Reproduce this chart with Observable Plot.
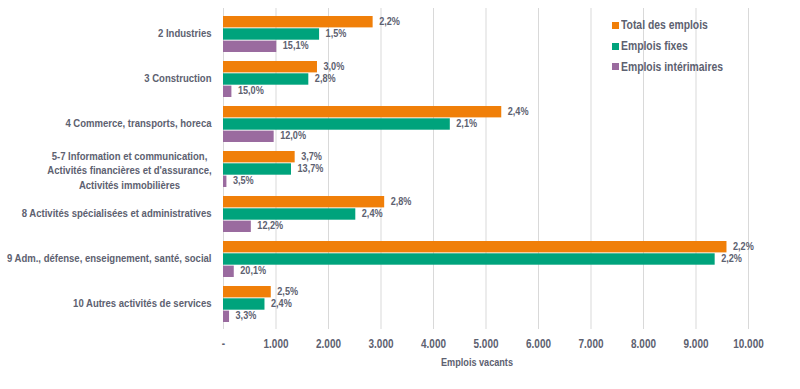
<!DOCTYPE html>
<html>
<head>
<meta charset="utf-8">
<script src="https://cdn.jsdelivr.net/npm/d3@7"></script>
<script src="https://cdn.jsdelivr.net/npm/@observablehq/plot@0.6"></script>
<style>
  html, body { margin: 0; padding: 0; background: #fff; }
  #chart { position: relative; width: 800px; height: 389px; font-family: "Liberation Sans", Arial, sans-serif; font-weight: bold; color: #5d6170; }
  #legend { position: absolute; left: 612px; top: 15px; font-size: 12.5px; }
  #legend .row { height: 20.7px; display: flex; align-items: center; white-space: nowrap; }
  #legend .sw { width: 7px; height: 7px; margin-right: 2px; display: inline-block; flex: none; }
  #legend .lab { display: inline-block; transform: scaleX(0.83); transform-origin: left center; }
</style>
</head>
<body>
<div id="chart"><div id="legend"></div></div>
<script>
const categories = [
  "2 Industries",
  "3 Construction",
  "4 Commerce, transports, horeca",
  "5-7 Information et communication,\nActivités financières et d'assurance,\nActivités immobilières",
  "8 Activités spécialisées et administratives",
  "9 Adm., défense, enseignement, santé, social",
  "10 Autres activités de services"
];
const seriesNames = ["Total des emplois", "Emplois fixes", "Emplois intérimaires"];
const seriesColors = ["#f07f09", "#00a37c", "#9a6b9f"];
const totalValues   = [2850, 1790, 5300, 1365, 3070, 9590, 910];
const fixesValues   = [1830, 1625, 4320, 1295, 2520, 9365, 790];
const interimValues = [1015, 160, 965, 65, 530, 205, 115];
const totalPct   = ["2,2%", "3,0%", "2,4%", "3,7%", "2,8%", "2,2%", "2,5%"];
const fixesPct   = ["1,5%", "2,8%", "2,1%", "13,7%", "2,4%", "2,2%", "2,4%"];
const interimPct = ["15,1%", "15,0%", "12,0%", "3,5%", "12,2%", "20,1%", "3,3%"];
const xTicks = [0, 1000, 2000, 3000, 4000, 5000, 6000, 7000, 8000, 9000, 10000];
const xLabel = "Emplois vacants";

const valueSets = [totalValues, fixesValues, interimValues];
const pctSets = [totalPct, fixesPct, interimPct];

const W = 800, H = 389, MT = 10, MB = 60, ML = 223, MR = 52;
const PI = 0.19, PO = 0.095;
const step = (H - MT - MB) / (categories.length - PI + 2 * PO);
const bw = step * (1 - PI);
const sub = bw / 3;
const SQUEEZE = 0.83;

const series = seriesNames.map((name, i) => ({
  name, color: seriesColors[i],
  rows: categories.map((cat, j) => ({cat, value: valueSets[i][j], pct: pctSets[i][j]}))
}));

const fmt = d => d === 0 ? "-" : d3.format(",")(d).replace(/,/g, ".");
const multi = categories.filter(c => c.includes("\n"));
const single = categories.filter(c => !c.includes("\n"));

const marks = [
  Plot.ruleX(xTicks, {stroke: "#d9d9d9", strokeWidth: 1, insetTop: -2})
];
series.forEach((s, i) => {
  marks.push(Plot.barX(s.rows, {y: "cat", x: "value", fill: s.color, insetTop: i * sub, insetBottom: (2 - i) * sub}));
});
series.forEach((s, i) => {
  marks.push(Plot.text(s.rows, {y: "cat", x: "value", text: "pct", textAnchor: "start", dx: 6, dy: (i - 1) * sub - 1, fontSize: 11}));
});
marks.push(
  Plot.axisX({ticks: xTicks, tickSize: 0, tickPadding: 10, tickFormat: fmt, label: null, fontSize: 12}),
  Plot.text(single, {y: d => d, frameAnchor: "left", textAnchor: "end", dx: -12, dy: -1, fontSize: 11.5}),
  Plot.text(multi, {y: d => d, frameAnchor: "left", textAnchor: "middle", dx: -94, lineHeight: 1.27, fontSize: 11.5}),
  Plot.text([xLabel], {frameAnchor: "bottom", dy: 36, dx: -9, fontSize: 11})
);

const chart = Plot.plot({
  width: W, height: H,
  marginLeft: ML, marginRight: MR, marginTop: MT, marginBottom: MB,
  style: {fontFamily: "'Liberation Sans', Arial, sans-serif", fontWeight: "bold", color: "#5d6170", background: "#fff"},
  x: {domain: [0, 10000]},
  y: {domain: categories, paddingInner: PI, paddingOuter: PO, axis: null},
  marks
});

// emulate the condensed typeface of the original by squeezing each text horizontally around its anchor
chart.querySelectorAll("text").forEach(t => {
  const tr = t.getAttribute("transform") || "";
  const ax = parseFloat(t.getAttribute("x"));
  const a = isNaN(ax) ? 0 : ax;
  const squeeze = a ? `translate(${a},0) scale(${SQUEEZE},1) translate(${-a},0)` : `scale(${SQUEEZE},1)`;
  t.setAttribute("transform", (tr + " " + squeeze).trim());
});

document.getElementById("chart").prepend(chart);

const legend = document.getElementById("legend");
series.forEach(s => {
  const row = document.createElement("div");
  row.className = "row";
  const sw = document.createElement("span");
  sw.className = "sw";
  sw.style.background = s.color;
  const lab = document.createElement("span");
  lab.className = "lab";
  lab.textContent = s.name;
  row.appendChild(sw);
  row.appendChild(lab);
  legend.appendChild(row);
});
</script>
</body>
</html>
